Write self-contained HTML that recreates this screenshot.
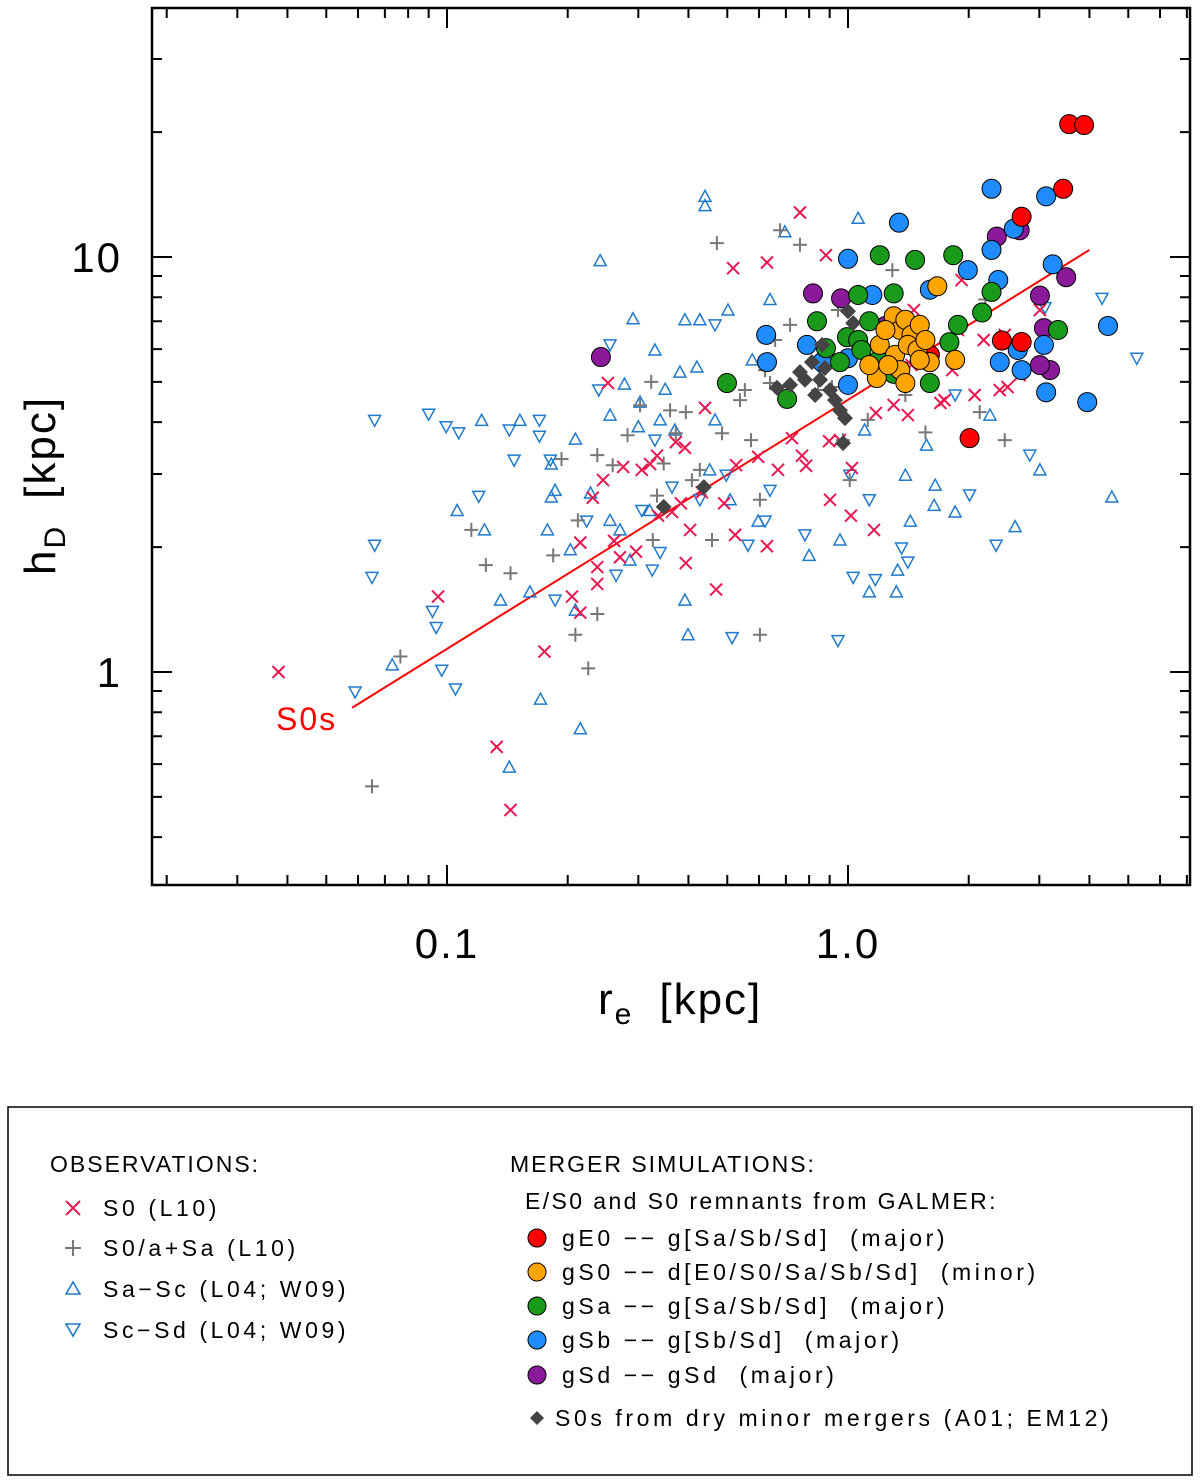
<!DOCTYPE html>
<html><head><meta charset="utf-8"><style>
html,body{margin:0;padding:0;background:#fff;}
svg{display:block;font-family:"Liberation Sans",sans-serif;}
.lg text{white-space:pre;letter-spacing:3.6px;}
</style></head><body>
<svg id="chart" width="1200" height="1481" viewBox="0 0 1200 1481" xmlns="http://www.w3.org/2000/svg">
<rect x="0" y="0" width="1200" height="1481" fill="#fff"/>
<g id="marks"></g>
<rect x="152" y="8" width="1038" height="877" fill="none" stroke="#000" stroke-width="2.5"/>
<g id="ticks"></g>
<text x="598" y="1014" font-size="44" letter-spacing="2">r<tspan font-size="30" dy="10">e</tspan><tspan dy="-10" dx="26">[kpc]</tspan></text>
<g transform="translate(55,575) rotate(-90)"><text x="0" y="0" font-size="44" letter-spacing="2">h<tspan font-size="30" dy="10">D</tspan><tspan dy="-10" dx="26">[kpc]</tspan></text></g>
<text x="276" y="730" font-size="32" letter-spacing="2" fill="#f00">S0s</text>

<rect x="8" y="1107" width="1184" height="368" fill="none" stroke="#000" stroke-width="1.5"/>
<g class="lg" font-size="23">
<text x="50" y="1172" style="letter-spacing:2px">OBSERVATIONS:</text>
<g><path d="M66 1201 L80 1215 M80 1201 L66 1215" stroke="#e8174f" stroke-width="2"/><text x="103" y="1216">S0 (L10)</text></g>
<g><path d="M65 1248 L81 1248 M73 1240 L73 1256" stroke="#777" stroke-width="2"/><text x="103" y="1256">S0/a+Sa (L10)</text></g>
<g><path d="M73 1282 L80 1294 L66 1294 Z" fill="none" stroke="#1f7acc" stroke-width="1.6"/><text x="103" y="1297">Sa−Sc (L04; W09)</text></g>
<g><path d="M66 1324 L80 1324 L73 1336 Z" fill="none" stroke="#1f7acc" stroke-width="1.6"/><text x="103" y="1338">Sc−Sd (L04; W09)</text></g>
<text x="510" y="1172" style="letter-spacing:2px">MERGER SIMULATIONS:</text>
<text x="525" y="1209" style="letter-spacing:2.4px">E/S0 and S0 remnants from GALMER:</text>
<g><circle cx="537" cy="1238" r="9" fill="#f00" stroke="#000"/><text x="562" y="1246">gE0 −− g[Sa/Sb/Sd]  (major)</text></g>
<g><circle cx="537" cy="1272" r="9" fill="#ffa500" stroke="#000"/><text x="562" y="1280">gS0 −− d[E0/S0/Sa/Sb/Sd]  (minor)</text></g>
<g><circle cx="537" cy="1306" r="9" fill="#1a9a1a" stroke="#000"/><text x="562" y="1314">gSa −− g[Sa/Sb/Sd]  (major)</text></g>
<g><circle cx="537" cy="1340" r="9" fill="#1e8cff" stroke="#000"/><text x="562" y="1348">gSb −− g[Sb/Sd]  (major)</text></g>
<g><circle cx="537" cy="1375" r="9" fill="#8b1a9b" stroke="#000"/><text x="562" y="1383">gSd −− gSd  (major)</text></g>
<g><path d="M537 1411 L544 1418 L537 1425 L530 1418 Z" fill="#444"/><text x="555" y="1426">S0s from dry minor mergers (A01; EM12)</text></g>
</g>
</svg>
<script>
const s0L10 = [[0.038,1.0],[0.133,0.66],[0.144,0.465],[0.095,1.52],[0.175,1.12],[0.205,1.52],[0.215,2.05],[0.215,1.39],[0.237,1.63],[0.237,1.79],[0.231,2.63],[0.252,4.97],[0.245,2.90],[0.261,2.07],[0.270,1.89],[0.275,3.12],[0.296,1.95],[0.306,3.07],[0.321,3.17],[0.334,3.32],[0.336,2.38],[0.364,2.43],[0.372,3.58],[0.383,2.55],[0.394,1.83],[0.404,2.20],[0.392,3.47],[0.432,2.71],[0.440,4.33],[0.469,1.58],[0.491,2.55],[0.523,2.14],[0.517,9.40],[0.526,3.15],[0.628,9.7],[0.628,2.01],[0.597,3.30],[0.669,3.07],[0.725,3.66],[0.759,12.8],[0.768,3.32],[0.786,3.14],[0.897,3.60],[0.881,10.1],[0.902,2.60],[0.955,3.62],[1.017,2.38],[1.023,3.10],[1.161,2.20],[1.174,4.21],[1.30,4.40],[1.41,4.16],[1.44,5.49],[1.46,7.45],[1.70,4.45],[1.74,4.52],[1.82,5.34],[2.07,4.65],[2.39,4.78],[2.46,6.49],[2.50,4.86],[2.68,6.14],[3.01,7.45],[2.18,6.31],[2.68,5.19],[1.88,6.67],[1.92,8.80],[1.46,6.14]];
const s0aSa = [[0.065,0.53],[0.0765,1.09],[0.115,2.20],[0.125,1.81],[0.144,1.73],[0.184,1.91],[0.193,3.26],[0.212,2.32],[0.209,1.23],[0.225,1.02],[0.237,1.38],[0.237,3.33],[0.259,3.15],[0.282,3.72],[0.323,5.0],[0.303,4.39],[0.326,2.08],[0.334,2.66],[0.347,3.18],[0.360,4.27],[0.372,3.76],[0.394,4.23],[0.408,2.90],[0.427,3.07],[0.458,2.08],[0.471,10.8],[0.485,3.76],[0.538,4.52],[0.553,4.78],[0.573,3.62],[0.603,2.60],[0.621,5.34],[0.639,4.97],[0.677,11.6],[0.603,1.23],[0.658,6.31],[0.717,6.86],[0.759,10.7],[0.842,4.78],[0.912,4.86],[0.944,7.45],[1.01,2.90],[0.972,3.62],[1.12,4.05],[1.39,4.65],[1.56,3.78],[2.20,7.9],[2.26,8.3],[2.46,3.62],[2.13,4.23],[1.29,9.3]];
const saSc = [[0.073,1.04],[0.124,2.20],[0.122,4.04],[0.143,0.59],[0.171,0.86],[0.161,1.56],[0.178,2.20],[0.182,2.64],[0.182,3.17],[0.186,2.74],[0.209,3.64],[0.215,0.73],[0.241,9.8],[0.209,1.41],[0.228,2.70],[0.255,4.16],[0.270,2.20],[0.277,4.94],[0.291,7.1],[0.303,4.47],[0.330,5.97],[0.340,4.05],[0.370,3.83],[0.381,5.28],[0.392,7.06],[0.399,1.23],[0.420,5.43],[0.427,7.06],[0.440,13.3],[0.452,3.07],[0.466,4.05],[0.502,7.45],[0.577,5.65],[0.597,2.31],[0.639,7.9],[0.696,11.5],[0.800,1.91],[0.955,2.08],[1.06,12.4],[1.10,3.83],[1.27,6.67],[1.39,2.98],[1.43,2.31],[1.57,3.52],[1.64,2.52],[1.85,2.43],[1.65,2.82],[2.26,4.16],[2.61,2.24],[3.01,3.07],[4.55,2.64],[1.32,1.56],[1.13,1.56],[1.33,1.76],[0.508,2.60],[0.136,1.49],[0.152,4.04],[0.106,2.45],[0.203,1.97],[0.286,1.86],[0.320,2.45],[0.255,2.32],[0.392,1.49],[0.44,14.0],[0.35,4.8],[0.30,3.9]];
const scSd = [[0.066,4.04],[0.066,2.02],[0.065,1.69],[0.059,0.895],[0.090,4.18],[0.0995,3.90],[0.107,3.77],[0.097,1.01],[0.105,0.91],[0.094,1.28],[0.092,1.40],[0.120,2.65],[0.143,3.83],[0.147,3.24],[0.170,4.04],[0.170,3.70],[0.181,3.24],[0.186,1.49],[0.223,2.31],[0.239,4.78],[0.255,6.14],[0.264,1.71],[0.325,1.76],[0.340,1.94],[0.306,2.45],[0.330,3.62],[0.364,2.79],[0.427,2.60],[0.466,6.86],[0.497,2.98],[0.514,1.21],[0.563,2.02],[0.621,2.31],[0.639,2.74],[0.781,2.14],[0.944,1.19],[0.856,5.34],[1.01,2.98],[1.03,1.69],[1.17,1.67],[1.13,2.60],[1.36,1.99],[1.41,1.84],[1.85,4.65],[2.01,2.67],[2.34,2.02],[2.84,3.33],[3.10,7.55],[4.30,7.95],[5.25,5.70]];
const gE0 = [[3.56,20.9],[3.88,20.8],[3.44,14.6],[2.71,12.5],[2.71,6.24],[2.01,3.66],[2.42,6.29],[1.60,5.81]];
const gS0 = [[1.67,8.5],[1.85,5.65],[1.18,5.11],[1.30,7.2],[1.35,6.67],[1.39,7.06],[1.44,6.49],[1.51,6.86],[1.20,6.14],[1.31,5.81],[1.41,6.14],[1.49,5.97],[1.56,6.31],[1.60,5.58],[1.35,5.34],[1.26,5.49],[1.39,4.97],[1.24,6.67],[1.51,5.65],[1.13,5.49]];
const gSa = [[0.499,4.97],[0.705,4.55],[0.837,7.0],[0.881,6.03],[0.955,5.58],[0.994,6.41],[1.06,8.10],[1.06,6.31],[1.08,5.97],[1.13,7.0],[1.19,5.63],[1.20,10.1],[1.30,8.17],[1.25,5.40],[1.30,5.23],[1.35,5.34],[1.47,9.84],[1.60,4.97],[1.79,6.23],[1.83,10.1],[1.88,6.86],[2.16,7.35],[2.28,8.24],[3.34,6.67]];
const gSb = [[0.625,6.49],[0.628,5.58],[0.790,6.14],[0.862,5.58],[1.0,5.7],[1.0,9.9],[1.0,4.92],[1.15,8.1],[1.34,12.1],[1.44,6.31],[1.60,8.34],[1.99,9.3],[2.28,14.6],[2.37,8.8],[2.39,5.58],[2.65,5.97],[2.71,5.34],[3.08,6.14],[3.12,14.0],[3.12,4.72],[3.24,9.6],[3.95,4.47],[4.45,6.82],[2.59,11.7],[2.28,10.4],[1.47,6.31]];
const gSd = [[0.242,5.74],[0.818,8.17],[0.961,7.95],[1.24,6.82],[2.35,11.2],[2.68,11.6],[3.01,8.07],[3.08,6.74],[3.19,5.34],[3.50,8.94],[3.01,5.49]];
const dryMinor = [[0.347,2.50],[0.437,2.79],[0.665,4.84],[0.717,4.92],[0.759,5.28],[0.781,5.06],[0.813,5.58],[0.828,4.65],[0.852,5.06],[0.862,6.14],[0.876,5.40],[0.902,4.78],[0.928,4.52],[0.955,4.27],[0.983,4.09],[0.972,3.56],[1.03,6.93],[1.0,7.4]];
const fitLine = [[0.058,0.82],[4.0,10.4]];
const xTickValues = [0.1,1.0];
const xTickLabels = ["0.1","1.0"];
const yTickValues = [1,10];
const yTickLabels = ["1","10"];

const NS="http://www.w3.org/2000/svg";
function X(v){return 848+401*Math.log10(v);}
function Y(v){return 672-415*Math.log10(v);}
const marks=document.getElementById('marks');
const ticks=document.getElementById('ticks');
function mk(tag,attrs,parent){const e=document.createElementNS(NS,tag);for(const k in attrs)e.setAttribute(k,attrs[k]);parent.appendChild(e);return e;}

let e;
e=mk('line',{x1:X(fitLine[0][0]),y1:Y(fitLine[0][1]),x2:X(fitLine[1][0]),y2:Y(fitLine[1][1]),stroke:'#f00','stroke-width':2},marks);



saSc.forEach(p=>{const x=X(p[0]),y=Y(p[1]);
 e=mk('path',{d:`M${x} ${y-6} L${x+6} ${y+5} L${x-6} ${y+5} Z`,fill:'none',stroke:'#1f7acc','stroke-width':1.5},marks);
 
 });
scSd.forEach(p=>{const x=X(p[0]),y=Y(p[1]);
 e=mk('path',{d:`M${x-6} ${y-5} L${x+6} ${y-5} L${x} ${y+6} Z`,fill:'none',stroke:'#1f7acc','stroke-width':1.5},marks);
 
 });
s0aSa.forEach(p=>{const x=X(p[0]),y=Y(p[1]);
 e=mk('path',{d:`M${x-7} ${y} L${x+7} ${y} M${x} ${y-7} L${x} ${y+7}`,stroke:'#777','stroke-width':2},marks);
 
 });
s0L10.forEach(p=>{const x=X(p[0]),y=Y(p[1]);
 e=mk('path',{d:`M${x-6} ${y-6} L${x+6} ${y+6} M${x+6} ${y-6} L${x-6} ${y+6}`,stroke:'#e8174f','stroke-width':2},marks);
 
 });
[[gSd,'#8b1a9b','gsd-point'],[gSb,'#1e8cff','gsb-point'],[gSa,'#1a9a1a','gsa-point'],[gE0,'#f00','ge0-point'],[gS0,'#ffa500','gs0-point']].forEach(s=>{
 s[0].forEach(p=>{
  e=mk('circle',{cx:X(p[0]),cy:Y(p[1]),r:9.5,fill:s[1],stroke:'#000','stroke-width':1},marks);
  
  });});
dryMinor.forEach(p=>{const x=X(p[0]),y=Y(p[1]);
 e=mk('path',{d:`M${x} ${y-8} L${x+8} ${y} L${x} ${y+8} L${x-8} ${y} Z`,fill:'#444'},marks);
 
 });

for(let dec=-2;dec<=0;dec++){for(let m=1;m<=9;m++){const v=m*Math.pow(10,dec);const x=X(v);if(x<152||x>1190)continue;
 const L=(m===1)?20:10;
 e=mk('path',{d:`M${x} 885 L${x} ${885-L} M${x} 8 L${x} ${8+L}`,stroke:'#000','stroke-width':2},ticks);
 
 }}
xTickValues.forEach((v,i)=>{e=mk('text',{x:X(v),y:958,'font-size':42,'text-anchor':'middle','letter-spacing':2},ticks);e.textContent=xTickLabels[i];
 
 });
for(let dec=-1;dec<=1;dec++){for(let m=1;m<=9;m++){const v=m*Math.pow(10,dec);const y=Y(v);if(y<8||y>885)continue;
 const L=(m===1)?20:10;
 e=mk('path',{d:`M152 ${y} L${152+L} ${y} M1190 ${y} L${1190-L} ${y}`,stroke:'#000','stroke-width':2},ticks);
 
 }}
yTickValues.forEach((v,i)=>{e=mk('text',{x:122,y:Y(v)+15,'font-size':42,'text-anchor':'end','letter-spacing':2},ticks);e.textContent=yTickLabels[i];
 
 });
</script>
</body></html>
